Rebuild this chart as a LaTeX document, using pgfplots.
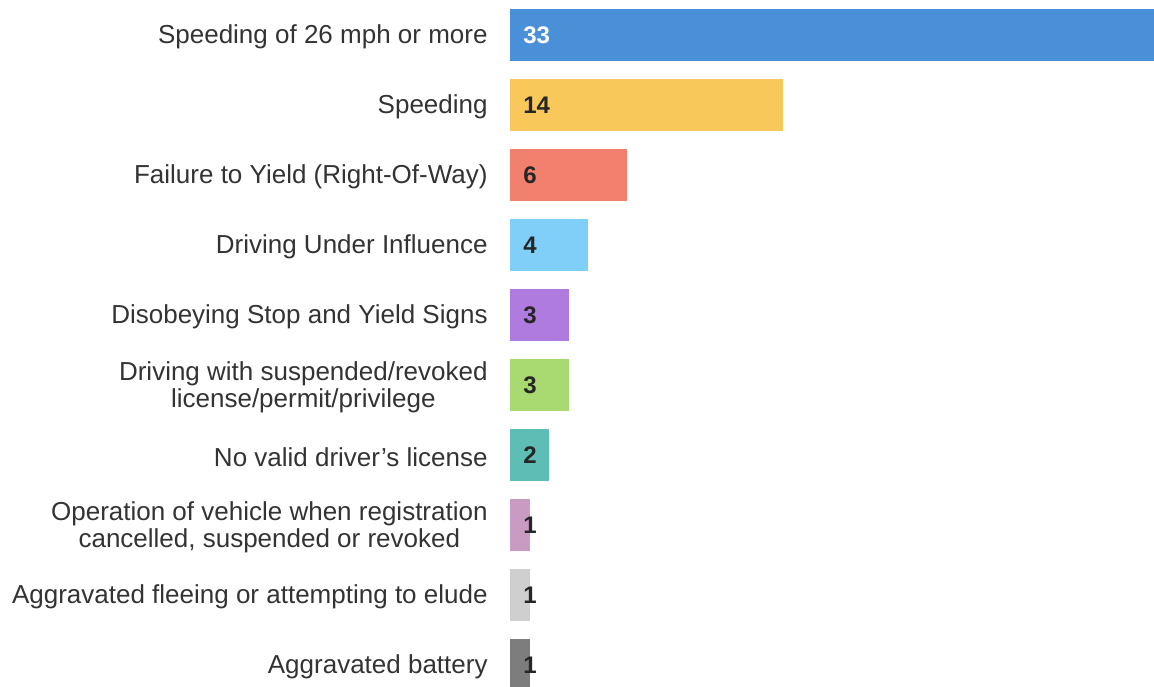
\documentclass[border=0pt]{standalone}
\usepackage{fontspec}
\setmainfont{Liberation Sans}
\usepackage{pgfplots}
\pgfplotsset{compat=1.18}
\definecolor{txt}{HTML}{333333}
\definecolor{c1}{HTML}{4A90D9}
\definecolor{c2}{HTML}{F9C85B}
\definecolor{c3}{HTML}{F1806E}
\definecolor{c4}{HTML}{80CFF8}
\definecolor{c5}{HTML}{B07BDF}
\definecolor{c6}{HTML}{A9D971}
\definecolor{c7}{HTML}{5EBEB6}
\definecolor{c8}{HTML}{C99AC2}
\definecolor{c9}{HTML}{CFCFCF}
\definecolor{c10}{HTML}{7D7D7D}

\begin{document}
\begin{tikzpicture}
\pgfplotsset{bars/.style={xbar, bar width=26pt, bar shift=0pt, draw=none}}
\begin{axis}[
  scale only axis,
  width=322pt, height=343.5pt,
  xmin=0, xmax=33,
  ymin=-0.5, ymax=9.314,
  y dir=reverse,
  axis line style={draw=none},
  tick style={draw=none},
  xtick=\empty,
  ytick={0,...,9},
  yticklabels={
    Speeding of 26 mph or more,
    Speeding,
    Failure to Yield (Right-Of-Way),
    Driving Under Influence,
    Disobeying Stop and Yield Signs,
    {Driving with suspended/revoked\\license/permit/privilege},
    No valid driver's license,
    {Operation of vehicle when registration\\cancelled, suspended or revoked},
    Aggravated fleeing or attempting to elude,
    Aggravated battery},
  yticklabel style={anchor=east, align=center, inner sep=0pt, xshift=-11pt,
    yshift=-1pt, text=txt, font=\fontsize{13}{13.5}\selectfont},
  clip=false,
]
\addplot[bars, fill=c1] coordinates {(33,0)};
\addplot[bars, fill=c2] coordinates {(14,1)};
\addplot[bars, fill=c3] coordinates {(6,2)};
\addplot[bars, fill=c4] coordinates {(4,3)};
\addplot[bars, fill=c5] coordinates {(3,4)};
\addplot[bars, fill=c6] coordinates {(3,5)};
\addplot[bars, fill=c7] coordinates {(2,6)};
\addplot[bars, fill=c8] coordinates {(1,7)};
\addplot[bars, fill=c9] coordinates {(1,8)};
\addplot[bars, fill=c10] coordinates {(1,9)};
% value labels at the bar base
\addplot[draw=none, mark=none, point meta=explicit symbolic,
  nodes near coords, nodes near coords style={anchor=west, inner sep=0pt,
  xshift=6.5pt, text=white, font=\fontsize{12}{13}\selectfont\bfseries}]
  coordinates {(0,0) [33]};
\addplot[draw=none, mark=none, point meta=explicit symbolic,
  nodes near coords, nodes near coords style={anchor=west, inner sep=0pt,
  xshift=6.5pt, text=black!85, font=\fontsize{12}{13}\selectfont\bfseries}]
  coordinates {(0,1) [14] (0,2) [6] (0,3) [4] (0,4) [3] (0,5) [3]
               (0,6) [2] (0,7) [1] (0,8) [1] (0,9) [1]};
\coordinate (sw) at (rel axis cs:0,0);
\coordinate (ne) at (rel axis cs:1,1);
\end{axis}
\pgfresetboundingbox
\path[use as bounding box] ([xshift=-255pt]sw) rectangle (ne);
\end{tikzpicture}
\end{document}
